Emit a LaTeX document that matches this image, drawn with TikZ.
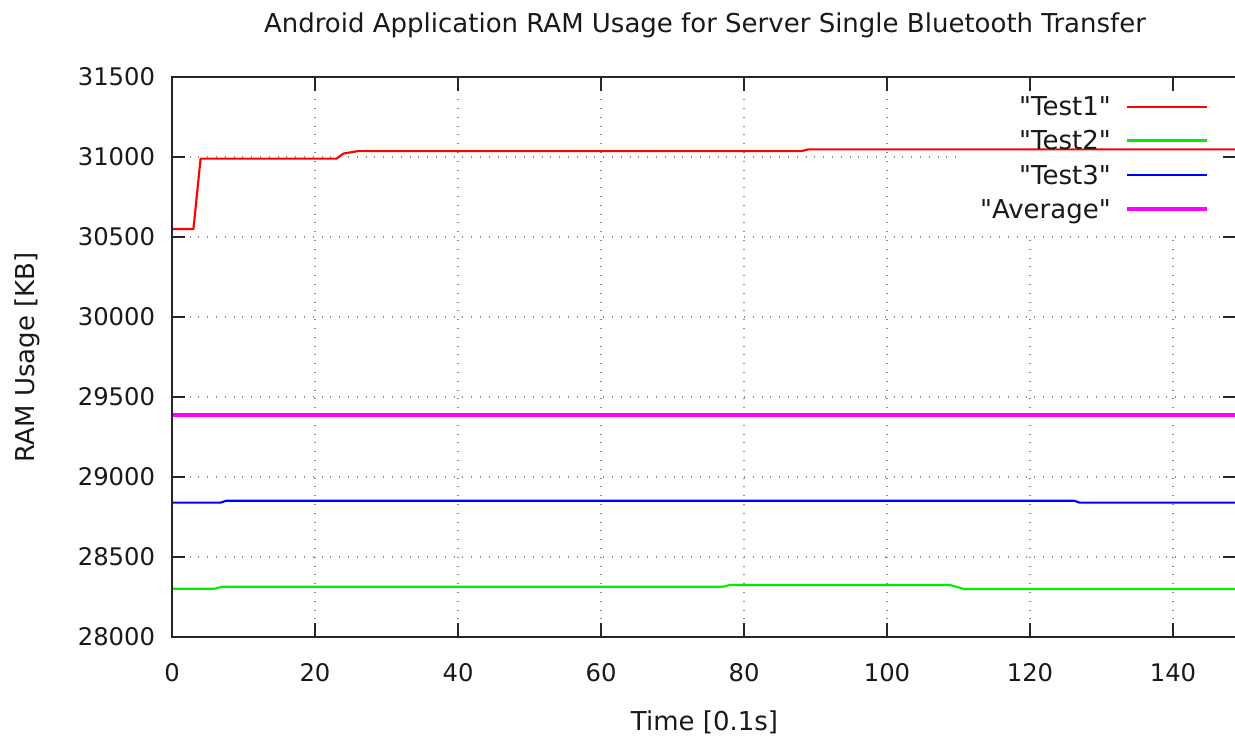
\documentclass[tikz,border=0pt]{standalone}
\usepackage{fontspec}
\usepackage{tikz}
\usetikzlibrary{positioning}
\newfontfamily\plotfont{DejaVu Sans}
\definecolor{gridgray}{HTML}{8C8C8C}
\definecolor{lineone}{HTML}{FF0000}
\definecolor{linetwo}{HTML}{00EE00}
\definecolor{linethree}{HTML}{0000FF}
\definecolor{lineavg}{HTML}{FF00FF}

\begin{document}
\begin{tikzpicture}[x=0.75pt,y=-0.75pt,
    lbl/.style={font=\plotfont\fontsize{19.5}{23}\selectfont,inner sep=0pt,text=black!90},
    num/.style={font=\plotfont\fontsize{18.2}{22}\selectfont,inner sep=0pt,text=black!90},
    gridline/.style={gridgray,line width=0.9pt,dash pattern=on 0.8pt off 5.8pt},
    tick/.style={black!85,line width=1.2pt},
    curve/.style={line width=1.6pt,line join=round}]
    \useasboundingbox (0,0) rectangle (1235,736);
    \node[lbl,anchor=base] (title) at (705,32) {Android Application RAM Usage for Server Single Bluetooth Transfer};
    \node[lbl,anchor=base] (xlabel) at (704.5,730) {Time [0.1s]};
    \node[lbl,rotate=90,anchor=base] (ylabel) at (34,357.5) {RAM Usage [KB]};

    \begin{scope}[shift={(172,637)},x=5.3625pt,y=0.12pt]
    \coordinate (ll) at (0,0);
    \coordinate (ur) at (148.8,3500);

    \foreach \v in {500,1000,1500,2000,2500}
        \draw[gridline] (0,\v) -- (148.8,\v);
    \draw[gridline] (0,3000) -- (110.5,3000);
    \foreach \t in {20,40,60,80,100}
        \draw[gridline] (\t,0) -- (\t,3500);
    \foreach \t in {120,140}
        \draw[gridline] (\t,0) -- (\t,2530);

    \draw[curve,lineone] (0,2550) -- (3,2550) -- (4,2990) -- (23,2990) -- (24,3022) -- (26,3037)
        -- (88,3037) -- (89,3048) -- (148.8,3048);
    \draw[curve,linetwo] (0,302) -- (6,302) -- (7,314) -- (77,314) -- (78,325) -- (108.8,325)
        -- (110.8,300) -- (148.8,300);
    \draw[curve,linethree] (0,840) -- (6.8,840) -- (7.6,852) -- (126.2,852) -- (126.9,840)
        -- (148.8,840);
    \draw[lineavg,line width=3pt] (0,1388) -- (148.8,1388);

    \foreach \v in {500,1000,1500,2000,2500,3000} {
        \draw[tick] (0,\v) -- ++(1.8,0);
        \draw[tick] (148.8,\v) -- ++(-1.8,0);
    }
    \foreach \t in {20,40,60,80,100,120,140} {
        \draw[tick] (\t,0) -- ++(0,87.5);
        \draw[tick] (\t,3500) -- ++(0,-87.5);
    }
    \draw[black!85,line width=1.2pt] (ll) rectangle (ur);

    \node[num,anchor=east,xshift=-12.5pt] (y0) at (0,0) {28000};
    \node[num,anchor=east,xshift=-12.5pt] (y1) at (0,500) {28500};
    \node[num,anchor=east,xshift=-12.5pt] (y2) at (0,1000) {29000};
    \node[num,anchor=east,xshift=-12.5pt] (y3) at (0,1500) {29500};
    \node[num,anchor=east,xshift=-12.5pt] (y4) at (0,2000) {30000};
    \node[num,anchor=east,xshift=-12.5pt] (y5) at (0,2500) {30500};
    \node[num,anchor=east,xshift=-12.5pt] (y6) at (0,3000) {31000};
    \node[num,anchor=east,xshift=-12.5pt] (y7) at (0,3500) {31500};

    \node[num,yshift=-26.6pt] (x0) at (0,0) {0};
    \node[num,yshift=-26.6pt] (x1) at (20,0) {20};
    \node[num,yshift=-26.6pt] (x2) at (40,0) {40};
    \node[num,yshift=-26.6pt] (x3) at (60,0) {60};
    \node[num,yshift=-26.6pt] (x4) at (80,0) {80};
    \node[num,yshift=-26.6pt] (x5) at (100,0) {100};
    \node[num,yshift=-26.6pt] (x6) at (120,0) {120};
    \node[num,yshift=-26.6pt] (x7) at (140,0) {140};
    \end{scope}

    \node[lbl,anchor=base east] (k1) at (1111,115) {"Test1"};
    \node[lbl,anchor=base east] (k2) at (1111,149.5) {"Test2"};
    \node[lbl,anchor=base east] (k3) at (1111,184) {"Test3"};
    \node[lbl,anchor=base east] (k4) at (1111,218) {"Average"};
    \draw[curve,lineone] (1127,107) -- (1207,107);
    \draw[curve,linetwo] (1127,140.5) -- (1207,140.5);
    \draw[curve,linethree] (1127,175) -- (1207,175);
    \draw[lineavg,line width=3pt] (1127,208.5) -- (1207,208.5);
\end{tikzpicture}
\end{document}
